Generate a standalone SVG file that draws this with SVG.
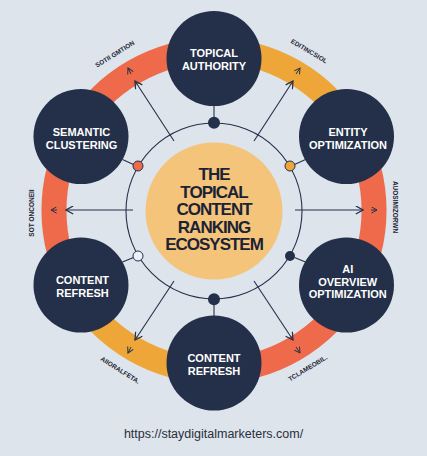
<svg xmlns="http://www.w3.org/2000/svg" width="427" height="456" viewBox="0 0 427 456">
<defs>
<style>
.node{fill:#243049}
.nt{font-family:"Liberation Sans",Arial,sans-serif;font-weight:bold;font-size:11px;fill:#ffffff;text-anchor:middle}
.ct{font-family:"Liberation Sans",Arial,sans-serif;font-weight:bold;font-size:17px;fill:#1b2235;text-anchor:middle;letter-spacing:-1px}
.lab{font-family:"Liberation Sans",Arial,sans-serif;font-weight:bold;font-size:6.5px;fill:#1e2533;text-anchor:middle}
.ring{fill:none;stroke-width:25}
.red{stroke:#ee6a4a}
.amb{stroke:#efa638}
.ln{stroke:#243049;stroke-width:1.1;fill:none}
.arr{stroke:#243049;stroke-width:1.1;fill:none;marker-end:url(#ah)}
.chev{stroke:#243049;stroke-width:1;fill:none;marker-end:url(#ah2)}
</style>
<marker id="ah" viewBox="0 0 10 10" refX="9" refY="5" markerWidth="9" markerHeight="9" orient="auto" markerUnits="userSpaceOnUse">
<polyline points="1,0.5 9,5 1,9.5" fill="none" stroke="#243049" stroke-width="1.4"/>
</marker>
<marker id="ah2" viewBox="0 0 10 10" refX="9" refY="5" markerWidth="7" markerHeight="7" orient="auto" markerUnits="userSpaceOnUse">
<polyline points="1,0.5 9,5 1,9.5" fill="none" stroke="#243049" stroke-width="1.4"/>
</marker>
</defs>
<rect width="427" height="456" fill="#dde4ec"/>
<g id="ring">
<path class="ring amb" d="M214,50.5 A160,160 0 0 1 352.6,130.5"/>
<path class="ring red" d="M352.6,130.5 A160,160 0 0 1 214,370.5"/>
<path class="ring amb" d="M214,370.5 A160,160 0 0 1 75.4,290.5"/>
<path class="ring red" d="M75.4,290.5 A160,160 0 0 1 214,50.5"/>
</g>
<g id="ring-labels">
<text class="lab" transform="translate(116,56) rotate(-32)">SOTII GMTION</text>
<text class="lab" transform="translate(308,53) rotate(31)">EDITINCSIOL</text>
<text class="lab" transform="translate(34,213) rotate(-90)">SOT ONCONEII</text>
<text class="lab" transform="translate(393,207) rotate(90)">AUOSIMIZORWN</text>
<text class="lab" transform="translate(119,372) rotate(32)">AIIORALFETA.</text>
<text class="lab" transform="translate(309,370) rotate(-31)">TCLAMEOBIL.</text>
</g>
<g id="connectors">
<circle class="ln" cx="214" cy="211" r="88"/>
<line class="ln" x1="214" y1="105" x2="214" y2="118"/>
<line class="ln" x1="214" y1="304" x2="214" y2="316"/>
<line class="ln" x1="122.5" y1="159.5" x2="133.5" y2="164.5"/>
<line class="ln" x1="305.5" y1="159.5" x2="294.5" y2="164.5"/>
<line class="ln" x1="122.5" y1="262" x2="133.5" y2="257.5"/>
<line class="ln" x1="305.5" y1="262" x2="294.5" y2="257.5"/>
<line class="arr" x1="174" y1="141" x2="135" y2="81"/>
<line class="arr" x1="254" y1="141" x2="293" y2="81"/>
<line class="arr" x1="133" y1="210" x2="66" y2="210"/>
<line class="arr" x1="295" y1="210" x2="363" y2="210"/>
<line class="arr" x1="174" y1="281" x2="135" y2="340"/>
<line class="arr" x1="254" y1="281" x2="293" y2="340"/>
<line class="chev" x1="131" y1="74" x2="128" y2="68"/>
<line class="chev" x1="296" y1="74" x2="300" y2="68"/>
<line class="chev" x1="57" y1="210" x2="51" y2="210"/>
<line class="chev" x1="371" y1="210" x2="377" y2="210"/>
<line class="chev" x1="131" y1="347" x2="128" y2="353"/>
<line class="chev" x1="296" y1="347" x2="300" y2="353"/>
<circle cx="214" cy="122.7" r="6" fill="#243049"/>
<circle cx="214" cy="299.3" r="6" fill="#243049"/>
<circle cx="138" cy="166" r="5" fill="#ee6a4a" stroke="#243049" stroke-width="1"/>
<circle cx="290" cy="166" r="5" fill="#efa638" stroke="#243049" stroke-width="1"/>
<circle cx="138" cy="256" r="5" fill="#eef2f6" stroke="#243049" stroke-width="1"/>
<circle cx="290" cy="256" r="5" fill="#243049"/>
</g>
<g id="center">
<circle cx="214" cy="211" r="68.5" fill="#f4c47b"/>
<text class="ct" x="214" y="180">THE</text>
<text class="ct" x="214" y="197.5">TOPICAL</text>
<text class="ct" x="214" y="215">CONTENT</text>
<text class="ct" x="214" y="233">RANKING</text>
<text class="ct" x="214" y="250.3">ECOSYSTEM</text>
</g>
<g id="topical-authority">
<circle class="node" cx="214" cy="58.5" r="47.5"/>
<text class="nt" x="214" y="56.7">TOPICAL</text>
<text class="nt" x="214" y="69.7">AUTHORITY</text>
</g>
<g id="entity-optimization">
<circle class="node" cx="346.5" cy="136.5" r="47.5"/>
<text class="nt" x="348" y="135.7">ENTITY</text>
<text class="nt" x="348" y="148.5">OPTIMIZATION</text>
</g>
<g id="ai-overview-optimization">
<circle class="node" cx="346.5" cy="285" r="47.5"/>
<text class="nt" x="347.7" y="272.7">AI</text>
<text class="nt" x="347.7" y="285.5">OVERVIEW</text>
<text class="nt" x="347.7" y="298.3">OPTIMIZATION</text>
</g>
<g id="content-refresh-bottom">
<circle class="node" cx="214" cy="363" r="47.5"/>
<text class="nt" x="214" y="362">CONTENT</text>
<text class="nt" x="214" y="374.7">REFRESH</text>
</g>
<g id="content-refresh-left">
<circle class="node" cx="81" cy="285" r="47.5"/>
<text class="nt" x="82.5" y="284">CONTENT</text>
<text class="nt" x="82.5" y="296.7">REFRESH</text>
</g>
<g id="semantic-clustering">
<circle class="node" cx="81" cy="136.5" r="47.5"/>
<text class="nt" x="81.5" y="135.7">SEMANTIC</text>
<text class="nt" x="81.5" y="148.5">CLUSTERING</text>
</g>
<text x="213.5" y="437.5" font-family="Liberation Sans, Arial, sans-serif" font-size="12.5" fill="#2a2f3a" text-anchor="middle">https://staydigitalmarketers.com/</text>
</svg>
